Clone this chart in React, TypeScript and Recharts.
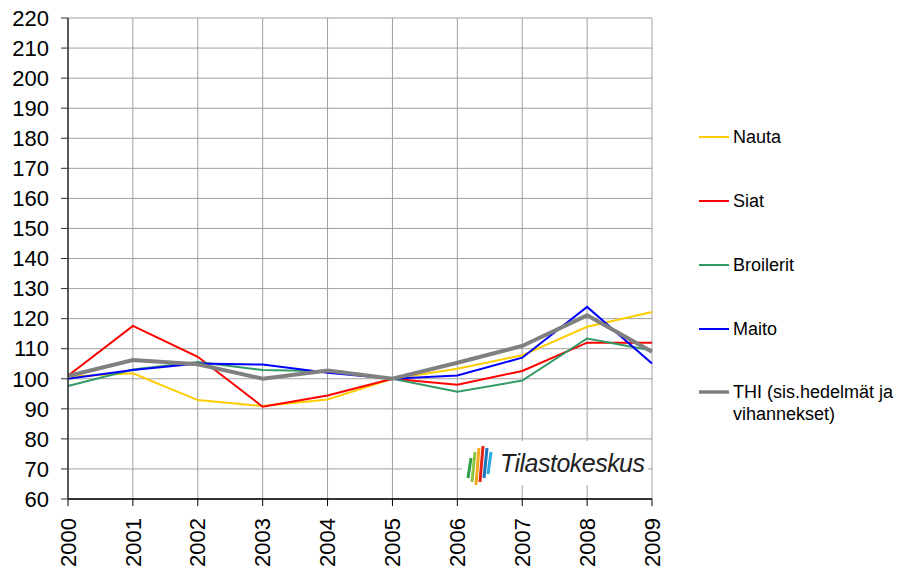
import { LineChart, Line, XAxis, YAxis, CartesianGrid } from 'recharts';

const years = [2000, 2001, 2002, 2003, 2004, 2005, 2006, 2007, 2008, 2009];
const nauta = [100.7, 101.8, 92.9, 90.9, 93.1, 100, 103.3, 107.8, 117.3, 122.2];
const siat = [101, 117.6, 107.3, 90.7, 94.4, 100, 98, 102.6, 112, 112];
const broilerit = [97.6, 103.1, 105.6, 102.9, 102.5, 100, 95.7, 99.4, 113.4, 109.4];
const maito = [100, 102.9, 105.1, 104.7, 102, 100, 101.1, 107, 123.9, 105.1];
const thi = [100.9, 106.2, 104.8, 100, 102.7, 100, 105.3, 110.9, 121.1, 109];
const yTicks = [60, 70, 80, 90, 100, 110, 120, 130, 140, 150, 160, 170, 180, 190, 200, 210, 220];

const series = [
  { key: 'nauta', name: 'Nauta', color: '#FFCC00', width: 2 },
  { key: 'siat', name: 'Siat', color: '#FF0000', width: 2 },
  { key: 'broilerit', name: 'Broilerit', color: '#339966', width: 2 },
  { key: 'maito', name: 'Maito', color: '#0000FF', width: 2 },
  { key: 'thi', name: 'THI (sis.hedelmät ja vihannekset)', color: '#808080', width: 4 },
];

const data = years.map((year, i) => ({
  year,
  nauta: nauta[i],
  siat: siat[i],
  broilerit: broilerit[i],
  maito: maito[i],
  thi: thi[i],
}));

const font = '"Liberation Sans", Arial, sans-serif';

const YearTick = ({ x, y, payload }: any) => (
  <text
    x={x}
    y={y + 10}
    transform={`rotate(-90, ${x}, ${y + 10})`}
    textAnchor="end"
    dy="0.35em"
    fontSize={22}
    fontFamily={font}
    fill="#000"
  >
    {payload.value}
  </text>
);

// legend drawn by hand beside the plot
const LegendBox = () => {
  const tops = [137, 201, 265, 329, 392];
  return (
    <div style={{ position: 'absolute', left: 698, top: 0, fontFamily: font, fontSize: 18, color: '#000' }}>
      {series.map((s, i) => (
        <div key={s.key} style={{ position: 'absolute', left: 0, top: tops[i] - 11, width: 210 }}>
          <svg width={32} height={22} style={{ position: 'absolute', left: 0, top: 0 }}>
            <line x1={1} y1={11} x2={31} y2={11} stroke={s.color} strokeWidth={s.width === 4 ? 3.5 : 2} />
          </svg>
          <div style={{ position: 'absolute', left: 35, top: 0, lineHeight: '22px', width: 180 }}>
            {s.key === 'thi' ? (
              <>
                THI (sis.hedelmät ja
                <br />
                vihannekset)
              </>
            ) : (
              s.name
            )}
          </div>
        </div>
      ))}
    </div>
  );
};

const Logo = () => {
  const stripes = [
    { x: 468, y1: 458, y2: 478, c: '#2FA04A' },
    { x: 472, y1: 452, y2: 482, c: '#8DC63F' },
    { x: 476, y1: 448, y2: 485, c: '#F6A81C' },
    { x: 480, y1: 446, y2: 482, c: '#E2231A' },
    { x: 484, y1: 448, y2: 478, c: '#1B75BC' },
    { x: 488, y1: 452, y2: 474, c: '#29ABE2' },
  ];
  return (
    <svg width={905} height={572} style={{ position: 'absolute', left: 0, top: 0, pointerEvents: 'none' }}>
      <rect x={462} y={441} width={186} height={44} fill="#fff" />
      {stripes.map((s, i) => (
        <line key={i} x1={s.x + 3} y1={s.y1} x2={s.x} y2={s.y2} stroke={s.c} strokeWidth={3} />
      ))}
      <text x={500} y={472} fontSize={25} fontStyle="italic" fontFamily={font} fill="#222" textLength={145}>
        Tilastokeskus
      </text>
    </svg>
  );
};

const App = () => {
  return (
    <div style={{ position: 'absolute', left: 0, top: 0, width: 905, height: 572, background: '#fff' }}>
      <LineChart width={905} height={572} data={data} margin={{ top: 18, right: 253, bottom: 0, left: 0 }}>
        <CartesianGrid stroke="#A0A0A0" strokeWidth={1} />
        <XAxis
          dataKey="year"
          type="number"
          domain={[2000, 2009]}
          ticks={years}
          height={73}
          tick={<YearTick />}
          tickLine={{ stroke: '#000' }}
          tickSize={7}
          axisLine={{ stroke: '#000', strokeWidth: 1.5 }}
        />
        <YAxis
          domain={[60, 220]}
          ticks={yTicks}
          width={68}
          interval={0}
          tickSize={7}
          tickMargin={12}
          tick={{ fontSize: 22, fontFamily: font, fill: '#000' }}
          tickLine={{ stroke: '#333' }}
          axisLine={{ stroke: '#333', strokeWidth: 1.5 }}
        />
        {series.map((s) => (
          <Line
            key={s.key}
            dataKey={s.key}
            name={s.name}
            stroke={s.color}
            strokeWidth={s.width}
            dot={false}
            activeDot={false}
            isAnimationActive={false}
            type="linear"
          />
        ))}
      </LineChart>
      <LegendBox />
      <Logo />
    </div>
  );
};

export default App;
